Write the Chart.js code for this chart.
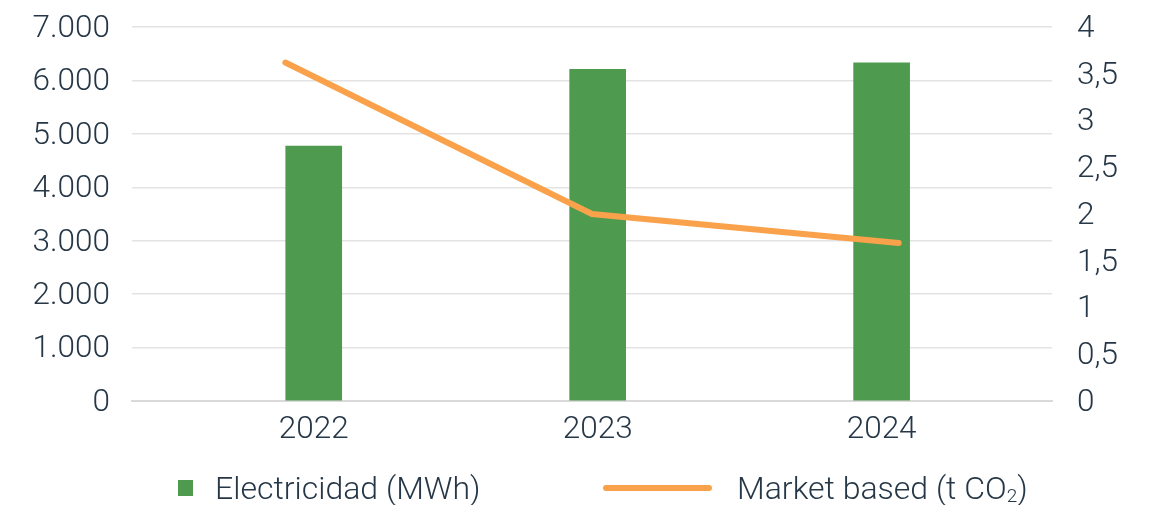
<!DOCTYPE html>
<html>
<head>
<meta charset="utf-8">
<script src="https://cdn.jsdelivr.net/npm/chart.js@4/dist/chart.umd.min.js"></script>
<style>
    html, body { margin: 0; padding: 0; background: #fff; }
    #wrap { position: relative; width: 1157px; height: 505px; }
    #chart { position: absolute; left: 0; top: 0; }
    .legend-item {
        position: absolute;
        top: 466px;
        height: 44px;
        display: flex;
        align-items: center;
        font-family: Roboto, sans-serif;
        font-weight: 300;
        font-size: 32px;
        color: #263747;
        white-space: nowrap;
    }
    .legend-item sub { font-size: 19px; position: relative; top: 8px; vertical-align: baseline; line-height: 0; }
    .swatch-bar { width: 15px; height: 16px; background: #4E9B4F; margin-right: 22px; }
    .swatch-line { width: 109px; height: 6px; border-radius: 3px; background: #FAA24B; margin-right: 25px; }
</style>
</head>
<body>
<div id="wrap">
    <canvas id="chart" width="1157" height="505"></canvas>
    <div class="legend-item" style="left:178px"><span class="swatch-bar"></span>Electricidad (MWh)</div>
    <div class="legend-item" style="left:603px"><span class="swatch-line"></span>Market based (t CO<sub>2</sub>)</div>
</div>
<script>
// ========================================
// Data
// ========================================

const years = [2022, 2023, 2024];
const electricidad = [4770, 6210, 6330];      // MWh
const marketBased = [3.62, 2.0, 1.69];        // t CO2
const seriesNames = ['Electricidad (MWh)', 'Market based (t CO₂)'];

const textColor = '#263747';
const gridColor = '#e3e3e3';

// ========================================
// Helpers
// ========================================

function formatThousands(v) {
    return String(v).replace(/\B(?=(\d{3})+(?!\d))/g, '.');
}

function formatDecimal(v) {
    return String(v).replace('.', ',');
}

// y axes: fixed width, and no extra label padding pushing the plot down
function fixVertical(width) {
    return function(s) {
        s.width = width;
        s.paddingTop = 0;
        s.paddingBottom = 0;
    };
}

// ========================================
// Chart
// ========================================

Chart.defaults.font.family = 'Roboto, sans-serif';
Chart.defaults.font.weight = 300;
Chart.defaults.font.size = 31.5;
Chart.defaults.color = textColor;

new Chart(document.getElementById('chart'), {
    type: 'bar',
    data: {
        datasets: [{
            type: 'line',
            label: seriesNames[1],
            data: years.map((y, i) => ({ x: y, y: marketBased[i] })),
            xAxisID: 'x2',
            yAxisID: 'y1',
            borderColor: '#FAA24B',
            backgroundColor: '#FAA24B',
            borderWidth: 6,
            borderCapStyle: 'round',
            pointRadius: 0,
            tension: 0,
            order: 0
        }, {
            type: 'bar',
            label: seriesNames[0],
            data: years.map((y, i) => ({ x: y, y: electricidad[i] })),
            xAxisID: 'x',
            yAxisID: 'y',
            backgroundColor: '#4E9B4F',
            barThickness: 56,
            grouped: false,
            order: 1
        }]
    },
    options: {
        responsive: false,
        animation: false,
        layout: {
            padding: { left: 0, right: 0, top: 27, bottom: 54 }
        },
        plugins: {
            legend: { display: false },
            tooltip: { enabled: false }
        },
        scales: {
            x: {
                type: 'linear',
                position: 'bottom',
                offset: false,
                min: 2021.36,
                max: 2024.6,
                grid: { display: false, drawTicks: false, offset: false },
                border: { display: true, color: '#d9d9d9', width: 2 },
                ticks: {
                    stepSize: 1,
                    includeBounds: false,
                    padding: 10,
                    color: textColor,
                    callback: v => String(v)
                },
                afterFit: s => { s.height = 50; }
            },
            x2: {
                type: 'linear',
                display: false,
                offset: false,
                grid: { offset: false },
                min: 2021.5,
                max: 2024.5
            },
            y: {
                position: 'left',
                min: 0,
                max: 7000,
                grid: { color: gridColor, lineWidth: 1.5, drawTicks: false },
                border: { display: false },
                ticks: {
                    stepSize: 1000,
                    padding: 22,
                    labelOffset: 2,
                    color: textColor,
                    callback: v => formatThousands(v)
                },
                afterFit: fixVertical(132)
            },
            y1: {
                position: 'right',
                min: 0,
                max: 4,
                grid: { display: false, drawTicks: false },
                border: { display: false },
                ticks: {
                    stepSize: 0.5,
                    padding: 25,
                    labelOffset: 2,
                    color: textColor,
                    callback: v => formatDecimal(v)
                },
                afterFit: fixVertical(105)
            }
        }
    }
});
</script>
</body>
</html>
